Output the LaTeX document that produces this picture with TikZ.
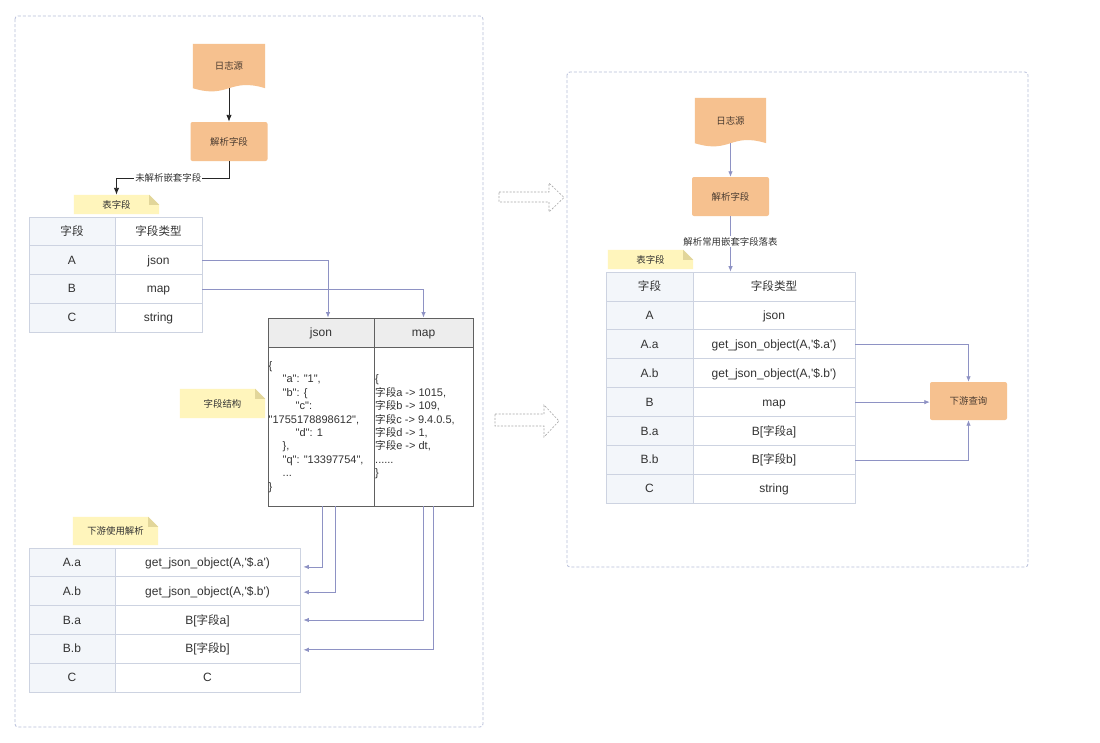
\documentclass[tikz,border=0pt]{standalone}
\usepackage{fontspec}
\setmainfont{Liberation Sans}
\newfontfamily\cjk[Scale=0.96]{Noto Sans CJK SC}
\usetikzlibrary{arrows.meta,backgrounds,calc}
\definecolor{orf}{HTML}{F6C18F}
\definecolor{ortx}{HTML}{4A3B30}
\definecolor{notey}{HTML}{FFF5BC}
\definecolor{notef}{HTML}{E2D69A}
\definecolor{gridc}{HTML}{CDD3E1}
\definecolor{lcol}{HTML}{F3F6FA}
\definecolor{tx}{HTML}{333333}
\definecolor{connc}{HTML}{8E92C4}
\definecolor{cont}{HTML}{B7BEDA}
\definecolor{jborder}{HTML}{606060}
\definecolor{jhead}{HTML}{EDEDED}
\definecolor{bigarr}{HTML}{A8A8A8}
\newcommand\jsq{\textquotedbl}
\newcommand\jsa{\textquotesingle}
\newcommand\mydoc[1]{%
  \fill[orf] (#1.south west) -- (#1.north west) -- (#1.north east) -- (#1.south east)
    .. controls ([yshift=11pt]#1.south) and ([yshift=-11pt]#1.south) .. (#1.south west) -- cycle;}
\newcommand\mynote[1]{%
  \fill[notey] (#1.north west) -- ([xshift=-10pt]#1.north east) -- ([yshift=-10pt]#1.north east)
    -- (#1.south east) -- (#1.south west) -- cycle;
  \fill[notef] ([xshift=-10pt]#1.north east) -- ([xshift=-10pt,yshift=-10pt]#1.north east)
    -- ([yshift=-10pt]#1.north east) -- cycle;}
\tikzset{
  smallcjk/.style={font=\fontsize{9.8}{11.5}\selectfont\cjk},
  orbox/.style={fill=orf, rounded corners=2pt, inner sep=0, text=ortx, smallcjk},
  docnode/.style={inner sep=0, text=ortx, smallcjk},
  notebox/.style={inner sep=0, text=tx, smallcjk},
  cellL/.style={draw=gridc, line width=0.8pt, fill=lcol, inner sep=0, minimum width=86pt,
    minimum height=28.8pt, text=tx, font=\fontsize{12}{14}\selectfont, text height=9.5pt, text depth=1.5pt},
  cellR/.style={draw=gridc, line width=0.8pt, fill=white, inner sep=0,
    minimum height=28.8pt, text=tx, font=\fontsize{12}{14}\selectfont, text height=9.5pt, text depth=1.5pt},
  jcell/.style={draw=jborder, line width=0.9pt, inner sep=0, text=tx, font=\fontsize{12}{14}\selectfont},
  conn/.style={draw=connc, line width=0.8pt, -{Latex[length=5.5pt,width=4.5pt]}},
  blk/.style={draw=black!85, line width=0.9pt, -{Latex[length=7pt,width=5.5pt]}},
  container/.style={draw=cont, dash pattern=on 3pt off 2pt, line width=0.8pt, rounded corners=3pt},
  bigarrow/.style={draw=bigarr, dash pattern=on 2pt off 1.5pt, line width=0.6pt},
  lbl/.style={fill=white, inner sep=1pt, text=tx, smallcjk},
  codetext/.style={anchor=west, align=left, inner sep=0, text=tx, font=\fontsize{11}{13.4}\selectfont}
}
\begin{document}
\begin{tikzpicture}[x=1pt,y=-1pt]
\useasboundingbox (0,0) rectangle (1100,742);

% containers
\draw[container] (15,16) rectangle (483,727);
\draw[container] (567,72) rectangle (1028,567);

% big dashed arrows
\draw[bigarrow] (499,192) -- (549,192) -- (549,183) -- (564,197.5) -- (549,212) -- (549,202) -- (499,202) -- cycle;
\draw[bigarrow] (495,414) -- (544,414) -- (544,405) -- (559,421) -- (544,437) -- (544,426) -- (495,426) -- cycle;

% ---------- left side ----------
\node[docnode, minimum width=72pt, minimum height=44pt] (doc1) at (229,66) {日志源};
\node[orbox, minimum width=77pt, minimum height=39pt] (box1) at (229,141.5) {解析字段};
\node[notebox, minimum width=85pt, minimum height=19pt] (note1) at (116.5,204.5) {表字段};

\node[cellL] (t1r1l) at (72,231.4) {{\cjk 字段}};
\node[cellR, minimum width=87pt] (t1r1r) at (158.5,231.4) {{\cjk 字段类型}};
\node[cellL] (t1r2l) at (72,260.1) {A};
\node[cellR, minimum width=87pt] (t1r2r) at (158.5,260.1) {json};
\node[cellL] (t1r3l) at (72,288.9) {B};
\node[cellR, minimum width=87pt] (t1r3r) at (158.5,288.9) {map};
\node[cellL] (t1r4l) at (72,317.6) {C};
\node[cellR, minimum width=87pt] (t1r4r) at (158.5,317.6) {string};

\node[jcell, fill=jhead, minimum width=106pt, minimum height=29pt, text height=9.5pt, text depth=1.5pt] (jh) at (321,332.5) {json};
\node[jcell, fill=jhead, minimum width=99pt, minimum height=29pt, text height=9.5pt, text depth=1.5pt] (mh) at (423.5,332.5) {map};
\node[jcell, fill=white, minimum width=106pt, minimum height=159pt] (jb) at (321,426.5) {};
\node[jcell, fill=white, minimum width=99pt, minimum height=159pt] (mb) at (423.5,426.5) {};
\node[codetext] (jtext) at (268.5,427) {\{\\
\hspace*{14pt}\jsq a\jsq: \jsq 1\jsq,\\
\hspace*{14pt}\jsq b\jsq: \{\\
\hspace*{27pt}\jsq c\jsq:\\
\jsq 1755178898612\jsq,\\
\hspace*{27pt}\jsq d\jsq: 1\\
\hspace*{14pt}\},\\
\hspace*{14pt}\jsq q\jsq: \jsq 13397754\jsq,\\
\hspace*{14pt}...\\
\}};
\node[codetext] (mtext) at (375,427) {\{\\
{\cjk 字段}a -> 1015,\\
{\cjk 字段}b -> 109,\\
{\cjk 字段}c -> 9.4.0.5,\\
{\cjk 字段}d -> 1,\\
{\cjk 字段}e -> dt,\\
......\\
\}};

\node[notebox, minimum width=85pt, minimum height=29pt] (note2) at (222.5,403.5) {字段结构};
\node[notebox, minimum width=85pt, minimum height=28pt] (note3) at (115.5,531) {下游使用解析};

\node[cellL] (t3r1l) at (72,562.4) {A.a};
\node[cellR, minimum width=185pt] (t3r1r) at (207.5,562.4) {get\_json\_object(A,\jsa\$.a\jsa)};
\node[cellL] (t3r2l) at (72,591.2) {A.b};
\node[cellR, minimum width=185pt] (t3r2r) at (207.5,591.2) {get\_json\_object(A,\jsa\$.b\jsa)};
\node[cellL] (t3r3l) at (72,620) {B.a};
\node[cellR, minimum width=185pt] (t3r3r) at (207.5,620) {B[{\cjk 字段}a]};
\node[cellL] (t3r4l) at (72,648.8) {B.b};
\node[cellR, minimum width=185pt] (t3r4r) at (207.5,648.8) {B[{\cjk 字段}b]};
\node[cellL] (t3r5l) at (72,677.6) {C};
\node[cellR, minimum width=185pt] (t3r5r) at (207.5,677.6) {C};

% ---------- right side ----------
\node[docnode, minimum width=71pt, minimum height=45pt] (doc2) at (730.5,120.5) {日志源};
\node[orbox, minimum width=77pt, minimum height=39pt] (box2) at (730.5,196.5) {解析字段};
\node[notebox, minimum width=85pt, minimum height=19pt] (note4) at (650.5,259.5) {表字段};

\node[cellL, minimum width=87pt, minimum height=28.9pt] (t2r1l) at (649.5,286.5) {{\cjk 字段}};
\node[cellR, minimum width=162pt, minimum height=28.9pt] (t2r1r) at (774,286.5) {{\cjk 字段类型}};
\node[cellL, minimum width=87pt, minimum height=28.9pt] (t2r2l) at (649.5,315.4) {A};
\node[cellR, minimum width=162pt, minimum height=28.9pt] (t2r2r) at (774,315.4) {json};
\node[cellL, minimum width=87pt, minimum height=28.9pt] (t2r3l) at (649.5,344.3) {A.a};
\node[cellR, minimum width=162pt, minimum height=28.9pt] (t2r3r) at (774,344.3) {get\_json\_object(A,\jsa\$.a\jsa)};
\node[cellL, minimum width=87pt, minimum height=28.9pt] (t2r4l) at (649.5,373.2) {A.b};
\node[cellR, minimum width=162pt, minimum height=28.9pt] (t2r4r) at (774,373.2) {get\_json\_object(A,\jsa\$.b\jsa)};
\node[cellL, minimum width=87pt, minimum height=28.9pt] (t2r5l) at (649.5,402.1) {B};
\node[cellR, minimum width=162pt, minimum height=28.9pt] (t2r5r) at (774,402.1) {map};
\node[cellL, minimum width=87pt, minimum height=28.9pt] (t2r6l) at (649.5,431) {B.a};
\node[cellR, minimum width=162pt, minimum height=28.9pt] (t2r6r) at (774,431) {B[{\cjk 字段}a]};
\node[cellL, minimum width=87pt, minimum height=28.9pt] (t2r7l) at (649.5,459.9) {B.b};
\node[cellR, minimum width=162pt, minimum height=28.9pt] (t2r7r) at (774,459.9) {B[{\cjk 字段}b]};
\node[cellL, minimum width=87pt, minimum height=28.9pt] (t2r8l) at (649.5,488.8) {C};
\node[cellR, minimum width=162pt, minimum height=28.9pt] (t2r8r) at (774,488.8) {string};

\node[orbox, minimum width=77pt, minimum height=38pt] (ds) at (968.5,401) {下游查询};

% background shapes
\begin{pgfonlayer}{background}
  \fill[white] (0,0) rectangle (1100,742);
  \mydoc{doc1}
  \mydoc{doc2}
  \mynote{note1}
  \mynote{note2}
  \mynote{note3}
  \mynote{note4}
\end{pgfonlayer}

% ---------- connectors ----------
\draw[blk] (doc1.south) -- (box1.north);
\draw[blk] (box1.south) -- ++(0,17) -| node[lbl, pos=0.27] {未解析嵌套字段} (note1.north);

\draw[conn] (t1r2r.east) -| ([xshift=7pt]jh.north);
\draw[conn] (t1r3r.east) -| (mh.north);
\draw[conn] ([xshift=1pt]jb.south) |- ([xshift=3pt,yshift=-4.5pt]t3r1r.east);
\draw[conn] ([xshift=14pt]jb.south) |- ([xshift=3pt,yshift=-1pt]t3r2r.east);
\draw[conn] (mb.south) |- ([xshift=3pt]t3r3r.east);
\draw[conn] ([xshift=9.5pt]mb.south) |- ([xshift=3pt,yshift=-1pt]t3r4r.east);

\draw[conn] (doc2.south) -- (box2.north);
\draw[conn] (box2.south) -- node[lbl, pos=0.46] {解析常用嵌套字段落表} (box2.south |- t2r1r.north);
\draw[conn] (t2r3r.east) -| (ds.north);
\draw[conn] (t2r5r.east) -- (t2r5r.east -| ds.west);
\draw[conn] (t2r7r.east) -| (ds.south);
\end{tikzpicture}
\end{document}
